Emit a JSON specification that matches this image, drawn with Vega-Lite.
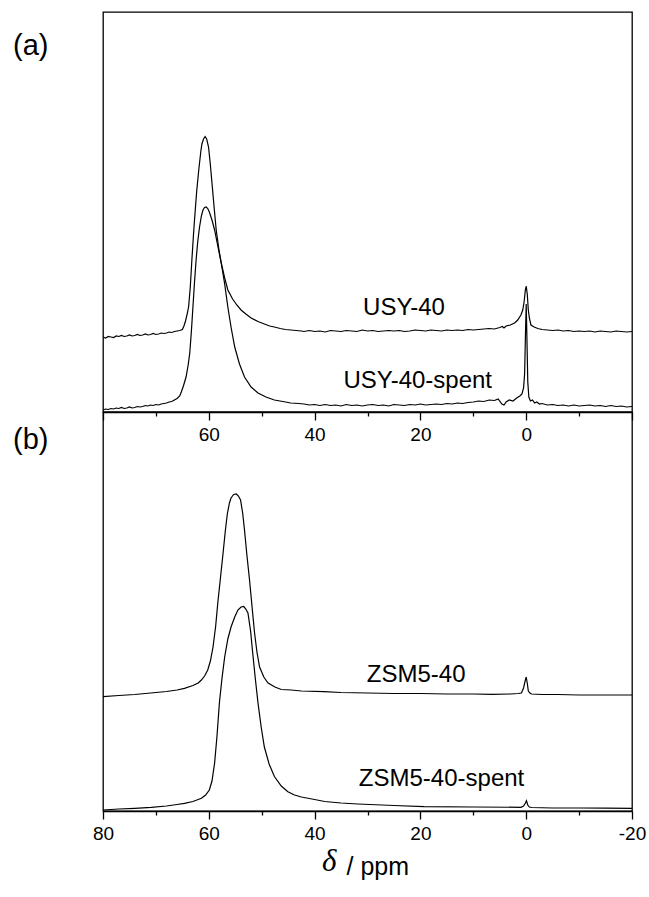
{
 "$schema": "https://vega.github.io/schema/vega-lite/v6.json",
 "padding": {"left": 12, "top": 11, "right": 17, "bottom": 10},
 "background": "white",
 "spacing": 0,
 "bounds": "flush",
 "config": {
  "view": {"stroke": "#000", "strokeWidth": 1.3},
  "font": "Liberation Sans",
  "axis": {"domainColor": "#000", "domainWidth": 1.3, "tickColor": "#000", "tickWidth": 1.3, "labelColor": "#000", "labelFont": "Liberation Sans", "labelFontSize": 19, "grid": false, "titleColor": "#000", "labelOverlap": false, "labelFlush": false}
 },
 "title": {"text": "δ", "orient": "bottom", "anchor": "start", "frame": "group", "font": "Liberation Serif", "fontStyle": "italic", "fontWeight": "normal", "fontSize": 31, "color": "#000", "dx": 219, "dy": -33, "offset": 0},
 "datasets": {
  "usy": [
   {"s":"USY-40","ppm":80,"v":75},{"s":"USY-40","ppm":79.5,"v":74},{"s":"USY-40","ppm":79,"v":75.5},{"s":"USY-40","ppm":78.5,"v":75},{"s":"USY-40","ppm":78,"v":74.5},{"s":"USY-40","ppm":77.5,"v":76},{"s":"USY-40","ppm":77,"v":75.5},{"s":"USY-40","ppm":76.5,"v":76.5},{"s":"USY-40","ppm":76,"v":75.5},{"s":"USY-40","ppm":75.5,"v":76},{"s":"USY-40","ppm":75,"v":77},{"s":"USY-40","ppm":74.5,"v":76},{"s":"USY-40","ppm":74,"v":76.5},{"s":"USY-40","ppm":73.5,"v":77.5},{"s":"USY-40","ppm":73,"v":76.5},{"s":"USY-40","ppm":72.5,"v":77},{"s":"USY-40","ppm":72,"v":78},{"s":"USY-40","ppm":71.5,"v":77},{"s":"USY-40","ppm":71,"v":77.5},{"s":"USY-40","ppm":70.5,"v":78.5},{"s":"USY-40","ppm":70,"v":77.5},{"s":"USY-40","ppm":69.5,"v":78},{"s":"USY-40","ppm":69,"v":79},{"s":"USY-40","ppm":68.5,"v":78.5},{"s":"USY-40","ppm":68,"v":79},{"s":"USY-40","ppm":67.5,"v":80},{"s":"USY-40","ppm":67,"v":79.5},{"s":"USY-40","ppm":66.5,"v":80.5},{"s":"USY-40","ppm":66,"v":81},{"s":"USY-40","ppm":65.5,"v":81.5},{"s":"USY-40","ppm":65,"v":82.5},{"s":"USY-40","ppm":64.7,"v":86},{"s":"USY-40","ppm":64.4,"v":91},{"s":"USY-40","ppm":64,"v":100},{"s":"USY-40","ppm":63.8,"v":106},{"s":"USY-40","ppm":63.5,"v":125},{"s":"USY-40","ppm":63.2,"v":152},{"s":"USY-40","ppm":62.9,"v":177},{"s":"USY-40","ppm":62.7,"v":192},{"s":"USY-40","ppm":62.3,"v":220},{"s":"USY-40","ppm":61.9,"v":242},{"s":"USY-40","ppm":61.5,"v":261},{"s":"USY-40","ppm":61.3,"v":268},{"s":"USY-40","ppm":61,"v":273},{"s":"USY-40","ppm":60.7,"v":275.5},{"s":"USY-40","ppm":60.4,"v":273},{"s":"USY-40","ppm":60.05,"v":265},{"s":"USY-40","ppm":59.7,"v":247},{"s":"USY-40","ppm":59.35,"v":226},{"s":"USY-40","ppm":59,"v":205},{"s":"USY-40","ppm":58.6,"v":182},{"s":"USY-40","ppm":58.1,"v":163},{"s":"USY-40","ppm":57.65,"v":149},{"s":"USY-40","ppm":57,"v":134},{"s":"USY-40","ppm":56.4,"v":122},{"s":"USY-40","ppm":55.5,"v":113},{"s":"USY-40","ppm":54.7,"v":107},{"s":"USY-40","ppm":53.9,"v":102},{"s":"USY-40","ppm":53,"v":98},{"s":"USY-40","ppm":52,"v":94},{"s":"USY-40","ppm":50.7,"v":90.5},{"s":"USY-40","ppm":49.5,"v":88},{"s":"USY-40","ppm":48.5,"v":86},{"s":"USY-40","ppm":47.6,"v":85},{"s":"USY-40","ppm":46.5,"v":83.5},{"s":"USY-40","ppm":45.5,"v":82.5},{"s":"USY-40","ppm":44.5,"v":82},{"s":"USY-40","ppm":43.5,"v":81.5},{"s":"USY-40","ppm":42.5,"v":81},{"s":"USY-40","ppm":42,"v":80.5},{"s":"USY-40","ppm":41,"v":81.5},{"s":"USY-40","ppm":40,"v":80.5},{"s":"USY-40","ppm":39,"v":81},{"s":"USY-40","ppm":38,"v":80},{"s":"USY-40","ppm":37,"v":81.5},{"s":"USY-40","ppm":36,"v":81},{"s":"USY-40","ppm":35,"v":80.5},{"s":"USY-40","ppm":34,"v":81.5},{"s":"USY-40","ppm":33,"v":81},{"s":"USY-40","ppm":32,"v":80.5},{"s":"USY-40","ppm":31,"v":82},{"s":"USY-40","ppm":30,"v":81},{"s":"USY-40","ppm":29,"v":81.5},{"s":"USY-40","ppm":28,"v":80.5},{"s":"USY-40","ppm":27,"v":81},{"s":"USY-40","ppm":26,"v":81.5},{"s":"USY-40","ppm":25,"v":81},{"s":"USY-40","ppm":24,"v":81.5},{"s":"USY-40","ppm":23,"v":80.5},{"s":"USY-40","ppm":22,"v":81},{"s":"USY-40","ppm":21,"v":82},{"s":"USY-40","ppm":20,"v":81.5},{"s":"USY-40","ppm":19,"v":81},{"s":"USY-40","ppm":18,"v":82},{"s":"USY-40","ppm":17,"v":81.5},{"s":"USY-40","ppm":16,"v":81},{"s":"USY-40","ppm":15,"v":82},{"s":"USY-40","ppm":14,"v":81.5},{"s":"USY-40","ppm":13,"v":82},{"s":"USY-40","ppm":12,"v":81.5},{"s":"USY-40","ppm":11,"v":82.5},{"s":"USY-40","ppm":10,"v":82},{"s":"USY-40","ppm":9,"v":82.5},{"s":"USY-40","ppm":8,"v":83},{"s":"USY-40","ppm":7,"v":83.5},{"s":"USY-40","ppm":6,"v":83},{"s":"USY-40","ppm":5,"v":84.5},{"s":"USY-40","ppm":4.5,"v":85.5},{"s":"USY-40","ppm":4.2,"v":84},{"s":"USY-40","ppm":3.8,"v":86},{"s":"USY-40","ppm":3,"v":87},{"s":"USY-40","ppm":2.2,"v":89},{"s":"USY-40","ppm":1.6,"v":92},{"s":"USY-40","ppm":1,"v":97},{"s":"USY-40","ppm":0.65,"v":102},{"s":"USY-40","ppm":0.4,"v":110},{"s":"USY-40","ppm":0.16,"v":122},{"s":"USY-40","ppm":0,"v":126},{"s":"USY-40","ppm":-0.2,"v":118},{"s":"USY-40","ppm":-0.4,"v":102},{"s":"USY-40","ppm":-0.6,"v":94},{"s":"USY-40","ppm":-0.9,"v":87},{"s":"USY-40","ppm":-1.5,"v":85},{"s":"USY-40","ppm":-2.2,"v":83.5},{"s":"USY-40","ppm":-3,"v":82.5},{"s":"USY-40","ppm":-4,"v":82},{"s":"USY-40","ppm":-5,"v":81.5},{"s":"USY-40","ppm":-6,"v":82},{"s":"USY-40","ppm":-7,"v":81},{"s":"USY-40","ppm":-8,"v":81.5},{"s":"USY-40","ppm":-9,"v":80.5},{"s":"USY-40","ppm":-10,"v":81},{"s":"USY-40","ppm":-11,"v":80.5},{"s":"USY-40","ppm":-12,"v":81},{"s":"USY-40","ppm":-13,"v":80},{"s":"USY-40","ppm":-14,"v":81},{"s":"USY-40","ppm":-15,"v":80.5},{"s":"USY-40","ppm":-16,"v":80},{"s":"USY-40","ppm":-17,"v":81},{"s":"USY-40","ppm":-18,"v":80.5},{"s":"USY-40","ppm":-19,"v":80},{"s":"USY-40","ppm":-20,"v":80.5},
   {"s":"USY-40-spent","ppm":80,"v":2},{"s":"USY-40-spent","ppm":79.5,"v":3},{"s":"USY-40-spent","ppm":79,"v":2.5},{"s":"USY-40-spent","ppm":78.5,"v":3.5},{"s":"USY-40-spent","ppm":78,"v":3},{"s":"USY-40-spent","ppm":77.5,"v":4},{"s":"USY-40-spent","ppm":77,"v":3.5},{"s":"USY-40-spent","ppm":76.5,"v":4.5},{"s":"USY-40-spent","ppm":76,"v":3.5},{"s":"USY-40-spent","ppm":75.5,"v":4},{"s":"USY-40-spent","ppm":75,"v":5},{"s":"USY-40-spent","ppm":74.5,"v":4},{"s":"USY-40-spent","ppm":74,"v":4.5},{"s":"USY-40-spent","ppm":73.5,"v":5.5},{"s":"USY-40-spent","ppm":73,"v":5},{"s":"USY-40-spent","ppm":72.5,"v":5.5},{"s":"USY-40-spent","ppm":72,"v":6.5},{"s":"USY-40-spent","ppm":71.5,"v":6},{"s":"USY-40-spent","ppm":71,"v":7},{"s":"USY-40-spent","ppm":70.5,"v":6.5},{"s":"USY-40-spent","ppm":70,"v":7.5},{"s":"USY-40-spent","ppm":69.5,"v":7},{"s":"USY-40-spent","ppm":69,"v":8},{"s":"USY-40-spent","ppm":68.5,"v":8.5},{"s":"USY-40-spent","ppm":68,"v":9},{"s":"USY-40-spent","ppm":67.5,"v":10},{"s":"USY-40-spent","ppm":67,"v":10.5},{"s":"USY-40-spent","ppm":66.5,"v":12},{"s":"USY-40-spent","ppm":66,"v":13.5},{"s":"USY-40-spent","ppm":65.5,"v":16},{"s":"USY-40-spent","ppm":65.2,"v":20},{"s":"USY-40-spent","ppm":64.8,"v":26},{"s":"USY-40-spent","ppm":64.3,"v":35},{"s":"USY-40-spent","ppm":63.9,"v":47},{"s":"USY-40-spent","ppm":63.6,"v":59},{"s":"USY-40-spent","ppm":63.3,"v":80},{"s":"USY-40-spent","ppm":63,"v":105},{"s":"USY-40-spent","ppm":62.7,"v":130},{"s":"USY-40-spent","ppm":62.4,"v":152},{"s":"USY-40-spent","ppm":62.1,"v":170},{"s":"USY-40-spent","ppm":61.75,"v":185},{"s":"USY-40-spent","ppm":61.4,"v":196},{"s":"USY-40-spent","ppm":61.1,"v":202},{"s":"USY-40-spent","ppm":60.8,"v":204.5},{"s":"USY-40-spent","ppm":60.5,"v":205},{"s":"USY-40-spent","ppm":60.2,"v":203.5},{"s":"USY-40-spent","ppm":59.9,"v":200},{"s":"USY-40-spent","ppm":59.4,"v":192},{"s":"USY-40-spent","ppm":58.9,"v":182},{"s":"USY-40-spent","ppm":58.3,"v":166},{"s":"USY-40-spent","ppm":57.65,"v":149},{"s":"USY-40-spent","ppm":57,"v":128},{"s":"USY-40-spent","ppm":56.4,"v":105},{"s":"USY-40-spent","ppm":55.8,"v":85},{"s":"USY-40-spent","ppm":55.1,"v":65},{"s":"USY-40-spent","ppm":54.2,"v":48},{"s":"USY-40-spent","ppm":53.25,"v":35},{"s":"USY-40-spent","ppm":52,"v":25},{"s":"USY-40-spent","ppm":50.7,"v":19},{"s":"USY-40-spent","ppm":49.2,"v":15},{"s":"USY-40-spent","ppm":47.6,"v":12},{"s":"USY-40-spent","ppm":46,"v":10.5},{"s":"USY-40-spent","ppm":44.5,"v":9},{"s":"USY-40-spent","ppm":43,"v":8.5},{"s":"USY-40-spent","ppm":42,"v":8},{"s":"USY-40-spent","ppm":41,"v":7},{"s":"USY-40-spent","ppm":40,"v":7.5},{"s":"USY-40-spent","ppm":39,"v":6.5},{"s":"USY-40-spent","ppm":38,"v":7.5},{"s":"USY-40-spent","ppm":37,"v":6.5},{"s":"USY-40-spent","ppm":36,"v":7},{"s":"USY-40-spent","ppm":35,"v":6},{"s":"USY-40-spent","ppm":34,"v":7.5},{"s":"USY-40-spent","ppm":33,"v":6.5},{"s":"USY-40-spent","ppm":32,"v":7},{"s":"USY-40-spent","ppm":31,"v":6},{"s":"USY-40-spent","ppm":30,"v":7},{"s":"USY-40-spent","ppm":29,"v":7.5},{"s":"USY-40-spent","ppm":28,"v":6.5},{"s":"USY-40-spent","ppm":27,"v":7},{"s":"USY-40-spent","ppm":26,"v":6},{"s":"USY-40-spent","ppm":25,"v":7.5},{"s":"USY-40-spent","ppm":24,"v":7},{"s":"USY-40-spent","ppm":23,"v":6.5},{"s":"USY-40-spent","ppm":22,"v":7.5},{"s":"USY-40-spent","ppm":21,"v":7},{"s":"USY-40-spent","ppm":20,"v":8},{"s":"USY-40-spent","ppm":19,"v":7},{"s":"USY-40-spent","ppm":18,"v":7.5},{"s":"USY-40-spent","ppm":17,"v":8},{"s":"USY-40-spent","ppm":16,"v":7.5},{"s":"USY-40-spent","ppm":15,"v":8.5},{"s":"USY-40-spent","ppm":14,"v":8},{"s":"USY-40-spent","ppm":13,"v":9},{"s":"USY-40-spent","ppm":12,"v":8.5},{"s":"USY-40-spent","ppm":11,"v":9.5},{"s":"USY-40-spent","ppm":10,"v":10},{"s":"USY-40-spent","ppm":9,"v":11},{"s":"USY-40-spent","ppm":8,"v":10.5},{"s":"USY-40-spent","ppm":7,"v":12},{"s":"USY-40-spent","ppm":6,"v":11.5},{"s":"USY-40-spent","ppm":5.3,"v":13},{"s":"USY-40-spent","ppm":4.6,"v":8},{"s":"USY-40-spent","ppm":4.2,"v":7},{"s":"USY-40-spent","ppm":3.8,"v":10},{"s":"USY-40-spent","ppm":3.2,"v":12},{"s":"USY-40-spent","ppm":2.5,"v":11},{"s":"USY-40-spent","ppm":1.8,"v":14},{"s":"USY-40-spent","ppm":1.2,"v":16},{"s":"USY-40-spent","ppm":0.8,"v":18},{"s":"USY-40-spent","ppm":0.5,"v":24},{"s":"USY-40-spent","ppm":0.3,"v":38},{"s":"USY-40-spent","ppm":0.15,"v":75},{"s":"USY-40-spent","ppm":0,"v":108},{"s":"USY-40-spent","ppm":-0.15,"v":70},{"s":"USY-40-spent","ppm":-0.3,"v":30},{"s":"USY-40-spent","ppm":-0.5,"v":15},{"s":"USY-40-spent","ppm":-0.8,"v":11},{"s":"USY-40-spent","ppm":-1.2,"v":12},{"s":"USY-40-spent","ppm":-1.6,"v":9},{"s":"USY-40-spent","ppm":-2,"v":10},{"s":"USY-40-spent","ppm":-2.5,"v":8},{"s":"USY-40-spent","ppm":-3,"v":8.5},{"s":"USY-40-spent","ppm":-4,"v":7},{"s":"USY-40-spent","ppm":-5,"v":7.5},{"s":"USY-40-spent","ppm":-6,"v":6.5},{"s":"USY-40-spent","ppm":-7,"v":7},{"s":"USY-40-spent","ppm":-8,"v":6},{"s":"USY-40-spent","ppm":-9,"v":7},{"s":"USY-40-spent","ppm":-10,"v":6},{"s":"USY-40-spent","ppm":-11,"v":6.5},{"s":"USY-40-spent","ppm":-12,"v":7},{"s":"USY-40-spent","ppm":-13,"v":6},{"s":"USY-40-spent","ppm":-14,"v":6.5},{"s":"USY-40-spent","ppm":-15,"v":5.5},{"s":"USY-40-spent","ppm":-16,"v":6.5},{"s":"USY-40-spent","ppm":-17,"v":5.5},{"s":"USY-40-spent","ppm":-18,"v":6},{"s":"USY-40-spent","ppm":-19,"v":5},{"s":"USY-40-spent","ppm":-20,"v":5.5}
  ],
  "usyLab": [
   {"label":"USY-40","ppm":23.1,"v":97},
   {"label":"USY-40-spent","ppm":20.5,"v":23.7}
  ],
  "zsm": [
   {"s":"ZSM5-40","ppm":80,"v":114.3},{"s":"ZSM5-40","ppm":77,"v":115.5},{"s":"ZSM5-40","ppm":74,"v":116.5},{"s":"ZSM5-40","ppm":71,"v":118},{"s":"ZSM5-40","ppm":68,"v":119.5},{"s":"ZSM5-40","ppm":66,"v":121},{"s":"ZSM5-40","ppm":64.6,"v":122.7},{"s":"ZSM5-40","ppm":63,"v":125.5},{"s":"ZSM5-40","ppm":62,"v":128},{"s":"ZSM5-40","ppm":61.4,"v":131},{"s":"ZSM5-40","ppm":60.8,"v":135},{"s":"ZSM5-40","ppm":60.2,"v":141},{"s":"ZSM5-40","ppm":59.7,"v":150},{"s":"ZSM5-40","ppm":59.2,"v":164},{"s":"ZSM5-40","ppm":58.7,"v":185},{"s":"ZSM5-40","ppm":58.3,"v":208},{"s":"ZSM5-40","ppm":57.8,"v":233},{"s":"ZSM5-40","ppm":57.3,"v":258},{"s":"ZSM5-40","ppm":56.9,"v":279},{"s":"ZSM5-40","ppm":56.5,"v":297},{"s":"ZSM5-40","ppm":56.1,"v":308},{"s":"ZSM5-40","ppm":55.8,"v":313},{"s":"ZSM5-40","ppm":55.3,"v":316.5},{"s":"ZSM5-40","ppm":54.8,"v":317},{"s":"ZSM5-40","ppm":54.4,"v":315},{"s":"ZSM5-40","ppm":54,"v":311},{"s":"ZSM5-40","ppm":53.6,"v":298},{"s":"ZSM5-40","ppm":53.25,"v":281},{"s":"ZSM5-40","ppm":52.8,"v":256},{"s":"ZSM5-40","ppm":52.3,"v":231},{"s":"ZSM5-40","ppm":51.8,"v":203},{"s":"ZSM5-40","ppm":51.35,"v":178},{"s":"ZSM5-40","ppm":50.9,"v":159},{"s":"ZSM5-40","ppm":50.4,"v":144},{"s":"ZSM5-40","ppm":49.6,"v":134},{"s":"ZSM5-40","ppm":48.8,"v":128},{"s":"ZSM5-40","ppm":47.5,"v":124},{"s":"ZSM5-40","ppm":46.3,"v":121.5},{"s":"ZSM5-40","ppm":44.4,"v":121},{"s":"ZSM5-40","ppm":42.5,"v":120},{"s":"ZSM5-40","ppm":38.2,"v":119.3},{"s":"ZSM5-40","ppm":35,"v":118.5},{"s":"ZSM5-40","ppm":30,"v":118},{"s":"ZSM5-40","ppm":25,"v":117.5},{"s":"ZSM5-40","ppm":20,"v":117.5},{"s":"ZSM5-40","ppm":15,"v":117},{"s":"ZSM5-40","ppm":10,"v":117},{"s":"ZSM5-40","ppm":6.5,"v":116.7},{"s":"ZSM5-40","ppm":3,"v":117},{"s":"ZSM5-40","ppm":1.5,"v":117.5},{"s":"ZSM5-40","ppm":0.9,"v":118},{"s":"ZSM5-40","ppm":0.5,"v":123},{"s":"ZSM5-40","ppm":0.25,"v":129},{"s":"ZSM5-40","ppm":0,"v":134},{"s":"ZSM5-40","ppm":-0.2,"v":128},{"s":"ZSM5-40","ppm":-0.4,"v":120},{"s":"ZSM5-40","ppm":-0.7,"v":118},{"s":"ZSM5-40","ppm":-1,"v":117},{"s":"ZSM5-40","ppm":-3,"v":116.5},{"s":"ZSM5-40","ppm":-6,"v":116.5},{"s":"ZSM5-40","ppm":-10,"v":116},{"s":"ZSM5-40","ppm":-15,"v":116},{"s":"ZSM5-40","ppm":-20,"v":116},
   {"s":"ZSM5-40-spent","ppm":80,"v":1},{"s":"ZSM5-40-spent","ppm":77,"v":2},{"s":"ZSM5-40-spent","ppm":74,"v":2.7},{"s":"ZSM5-40-spent","ppm":70.9,"v":3.7},{"s":"ZSM5-40-spent","ppm":68,"v":5},{"s":"ZSM5-40-spent","ppm":66,"v":6.5},{"s":"ZSM5-40-spent","ppm":64.6,"v":7.7},{"s":"ZSM5-40-spent","ppm":63,"v":9.5},{"s":"ZSM5-40-spent","ppm":61.4,"v":12.7},{"s":"ZSM5-40-spent","ppm":60.6,"v":16},{"s":"ZSM5-40-spent","ppm":59.9,"v":21},{"s":"ZSM5-40-spent","ppm":59.4,"v":30},{"s":"ZSM5-40-spent","ppm":58.9,"v":48},{"s":"ZSM5-40-spent","ppm":58.45,"v":75},{"s":"ZSM5-40-spent","ppm":58,"v":108},{"s":"ZSM5-40-spent","ppm":57.5,"v":133},{"s":"ZSM5-40-spent","ppm":57,"v":154},{"s":"ZSM5-40-spent","ppm":56.4,"v":172},{"s":"ZSM5-40-spent","ppm":55.8,"v":184},{"s":"ZSM5-40-spent","ppm":55.1,"v":194},{"s":"ZSM5-40-spent","ppm":54.5,"v":201},{"s":"ZSM5-40-spent","ppm":53.9,"v":204},{"s":"ZSM5-40-spent","ppm":53.4,"v":204.5},{"s":"ZSM5-40-spent","ppm":53,"v":202},{"s":"ZSM5-40-spent","ppm":52.6,"v":198},{"s":"ZSM5-40-spent","ppm":52.1,"v":180},{"s":"ZSM5-40-spent","ppm":51.7,"v":158},{"s":"ZSM5-40-spent","ppm":51.2,"v":132},{"s":"ZSM5-40-spent","ppm":50.7,"v":108},{"s":"ZSM5-40-spent","ppm":50.1,"v":84},{"s":"ZSM5-40-spent","ppm":49.5,"v":64},{"s":"ZSM5-40-spent","ppm":48.6,"v":47},{"s":"ZSM5-40-spent","ppm":47.6,"v":34.5},{"s":"ZSM5-40-spent","ppm":46.3,"v":25},{"s":"ZSM5-40-spent","ppm":45.05,"v":19.3},{"s":"ZSM5-40-spent","ppm":43.8,"v":16},{"s":"ZSM5-40-spent","ppm":42.5,"v":14},{"s":"ZSM5-40-spent","ppm":40,"v":11.5},{"s":"ZSM5-40-spent","ppm":38.1,"v":9.5},{"s":"ZSM5-40-spent","ppm":35,"v":8},{"s":"ZSM5-40-spent","ppm":31.8,"v":7},{"s":"ZSM5-40-spent","ppm":25,"v":5.5},{"s":"ZSM5-40-spent","ppm":19.3,"v":4.3},{"s":"ZSM5-40-spent","ppm":10,"v":4},{"s":"ZSM5-40-spent","ppm":1,"v":3.7},{"s":"ZSM5-40-spent","ppm":0.5,"v":5},{"s":"ZSM5-40-spent","ppm":0.15,"v":8},{"s":"ZSM5-40-spent","ppm":-0.05,"v":10.3},{"s":"ZSM5-40-spent","ppm":-0.3,"v":6},{"s":"ZSM5-40-spent","ppm":-0.6,"v":4},{"s":"ZSM5-40-spent","ppm":-1,"v":3.5},{"s":"ZSM5-40-spent","ppm":-5,"v":3},{"s":"ZSM5-40-spent","ppm":-10,"v":3},{"s":"ZSM5-40-spent","ppm":-15,"v":2.8},{"s":"ZSM5-40-spent","ppm":-20,"v":2.7}
  ],
  "zsmLab": [
   {"label":"ZSM5-40","ppm":20.8,"v":129.3},
   {"label":"ZSM5-40-spent","ppm":16,"v":25}
  ]
 },
 "vconcat": [
  {
   "width": 529, "height": 400,
   "title": {"text": "(a)", "anchor": "start", "frame": "group", "orient": "top", "dx": -90, "dy": 53, "fontSize": 29, "fontWeight": "normal", "font": "Liberation Sans", "color": "#000"},
   "layer": [
    {
     "data": {"name": "usy"},
     "mark": {"type": "line", "color": "#000", "strokeWidth": 1.2},
     "encoding": {
      "x": {"field": "ppm", "type": "quantitative", "scale": {"domain": [-20, 80], "reverse": true, "nice": false, "zero": false},
       "axis": {"values": [80,70,60,50,40,30,20,10,0,-10,-20], "tickSize": {"condition": {"test": "datum.value % 20 === 0", "value": 8}, "value": 4}, "labelExpr": "(datum.value % 20 === 0 && datum.value < 70 && datum.value > -10) ? toString(datum.value) : ''", "labelFontSize": 19, "labelPadding": 5, "title": null}},
      "y": {"field": "v", "type": "quantitative", "scale": {"domain": [0, 400], "nice": false, "zero": false}, "axis": null},
      "detail": {"field": "s"}
     }
    },
    {
     "data": {"name": "usyLab"},
     "mark": {"type": "text", "fontSize": 24, "baseline": "alphabetic", "align": "center", "color": "#000", "font": "Liberation Sans"},
     "encoding": {
      "x": {"field": "ppm", "type": "quantitative"},
      "y": {"field": "v", "type": "quantitative"},
      "text": {"field": "label"}
     }
    }
   ]
  },
  {
   "width": 529, "height": 399,
   "title": {"text": "(b)", "anchor": "start", "frame": "group", "orient": "top", "dx": -90, "dy": 47, "fontSize": 29, "fontWeight": "normal", "font": "Liberation Sans", "color": "#000"},
   "layer": [
    {
     "data": {"name": "zsm"},
     "mark": {"type": "line", "color": "#000", "strokeWidth": 1.2},
     "encoding": {
      "x": {"field": "ppm", "type": "quantitative", "scale": {"domain": [-20, 80], "reverse": true, "nice": false, "zero": false},
       "axis": {"values": [80,70,60,50,40,30,20,10,0,-10,-20], "tickSize": {"condition": {"test": "datum.value % 20 === 0", "value": 8}, "value": 4}, "labelExpr": "datum.value % 20 === 0 ? toString(datum.value) : ''", "labelFontSize": 19, "labelPadding": 5, "title": "/ ppm", "titleFont": "Liberation Sans", "titleFontSize": 25, "titleFontWeight": "normal", "titleX": 243, "titleAlign": "left", "titlePadding": 11}},
      "y": {"field": "v", "type": "quantitative", "scale": {"domain": [0, 399], "nice": false, "zero": false}, "axis": null},
      "detail": {"field": "s"}
     }
    },
    {
     "data": {"name": "zsmLab"},
     "mark": {"type": "text", "fontSize": 24, "baseline": "alphabetic", "align": "center", "color": "#000", "font": "Liberation Sans"},
     "encoding": {
      "x": {"field": "ppm", "type": "quantitative"},
      "y": {"field": "v", "type": "quantitative"},
      "text": {"field": "label"}
     }
    }
   ]
  }
 ]
}
